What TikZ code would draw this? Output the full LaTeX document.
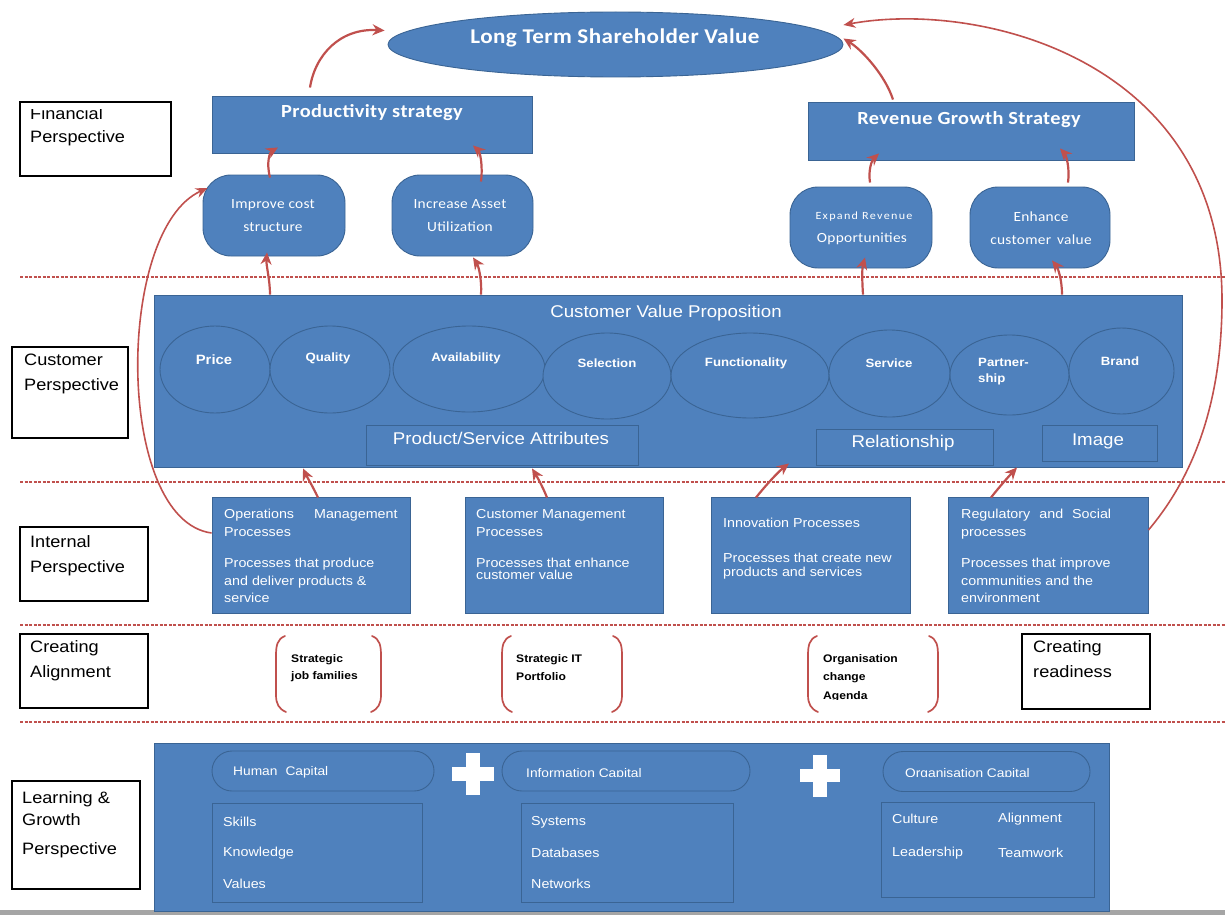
\documentclass[tikz,border=0pt]{standalone}
\usepackage{fontspec}
\setmainfont[FakeStretch=1.1]{Liberation Sans}
\newfontfamily\capfont[FakeStretch=1.1,LetterSpace=2]{Carlito}
\newfontfamily\widecapfont[FakeStretch=1.1,LetterSpace=12]{Carlito}
\usetikzlibrary{arrows.meta,shapes.geometric}
\definecolor{bsfill}{HTML}{4F81BD}
\definecolor{bsline}{HTML}{3A6494}
\definecolor{bsred}{HTML}{C0504D}
\definecolor{barg}{HTML}{A5A5A5}
\newcommand\fsz[2]{\fontsize{#1}{#2}\selectfont}
\begin{document}
\begin{tikzpicture}[x=1pt,y=-1pt,
  sz/.style 2 args={minimum width=#1pt, minimum height=#2pt},
  blk/.style={draw=bsline, line width=0.9pt, fill=bsfill, inner sep=0},
  oval/.style={blk, ellipse},
  rbox/.style={blk, rounded corners=28pt},
  pill/.style={blk, rounded corners=20pt},
  tag/.style={draw=black, line width=1.3pt, fill=white, inner sep=0},
  wtxt/.style={text=white, inner sep=0},
  ktxt/.style={text=black, inner sep=0, align=left, anchor=north west},
  link/.style={draw=bsred, line width=2.2pt, -{Stealth[length=12pt,width=11pt]}},
  arc/.style={draw=bsred, line width=1.6pt, -{Stealth[length=12pt,width=10pt]}},
  sep/.style={draw=bsred, line width=1.8pt, dash pattern=on 3pt off 1.5pt},
  brk/.style={draw=bsred, line width=1.7pt, line cap=round},
  lbl/.style={font=\fsz{16.5}{25}},
]
\useasboundingbox (0,0) rectangle (1225,915);

% layer separators
\foreach \yy in {277,482,625,722} \draw[sep] (20,\yy) -- (1225,\yy);

% ---------- financial perspective ----------
\node[tag, sz={151}{74}] (finbox) at (95.5,139) {};
\begin{scope}
  \clip (20,110) rectangle (171,176);
  \node[ktxt, font=\fsz{16.5}{23.5}] (fint) at (30,107) {Financial\\Perspective};
\end{scope}

\node[oval, sz={455}{65}] (ltsv) at (615.5,44.5) {};
\node[wtxt, font=\capfont\bfseries\fsz{21}{24}] (ltsvt) at (615,38) {Long Term Shareholder Value};

\node[blk, sz={320}{57}] (prod) at (372,124.5) {};
\node[wtxt, font=\capfont\bfseries\fsz{18.5}{22}] (prodt) at (372,113) {Productivity strategy};
\node[blk, sz={326}{58}] (rev) at (971,131) {};
\node[wtxt, font=\capfont\bfseries\fsz{18.5}{22}] (revt) at (969,120) {Revenue Growth Strategy};

\node[rbox, sz={142}{81}] (cost) at (274,215.5) {};
\node[wtxt, font=\capfont\fsz{14}{23}, align=center] (costt) at (273,216) {Improve cost\\structure};
\node[rbox, sz={141}{81}] (asset) at (462.5,215.5) {};
\node[wtxt, font=\capfont\fsz{14}{23}, align=center] (assett) at (460,216) {Increase Asset\\Utilization};
\node[rbox, sz={142}{81}] (expand) at (861,227.5) {};
\node[wtxt, font=\widecapfont\fsz{11}{14}] (expt1) at (864,217) {Expand Revenue};
\node[wtxt, font=\capfont\fsz{14}{17}] (expt2) at (862,239) {Opportunities};
\node[rbox, sz={140}{81}] (enhance) at (1040,227.5) {};
\node[wtxt, font=\capfont\fsz{14}{23}, align=center] (enht) at (1041,228) {Enhance\\customer\hspace{6pt}value};

% ---------- customer perspective ----------
\node[tag, sz={116}{91}] (cusbox) at (70,392.5) {};
\node[ktxt, lbl] (cust) at (24,354) {Customer\\Perspective};

\node[blk, sz={1028}{172}] (cvp) at (668,381) {};
\node[wtxt, font=\fsz{17}{20}] (cvpt) at (666,313) {Customer Value Proposition};

\node[oval, sz={110}{87}] (price) at (215,369.5) {};
\node[oval, sz={120}{87}] (quality) at (330,369.5) {};
\node[oval, sz={152}{86}] (avail) at (469,369) {};
\node[oval, sz={128}{86}] (select) at (607,376) {};
\node[oval, sz={158}{85}] (func) at (750,375.5) {};
\node[oval, sz={121}{87}] (service) at (889.5,373.5) {};
\node[oval, sz={119}{80}] (partner) at (1009.5,375) {};
\node[oval, sz={105}{86}] (brand) at (1121.5,371) {};

\node[wtxt, font=\bfseries\fsz{13.5}{16}] (pricet) at (214,360) {Price};
\node[wtxt, font=\bfseries\fsz{12}{16}] (qualityt) at (328,358) {Quality};
\node[wtxt, font=\bfseries\fsz{12}{16}] (availt) at (466,358) {Availability};
\node[wtxt, font=\bfseries\fsz{12}{16}] (selectt) at (607,363) {Selection};
\node[wtxt, font=\bfseries\fsz{12}{16}] (funct) at (746,363) {Functionality};
\node[wtxt, font=\bfseries\fsz{12}{16}] (servicet) at (889,363) {Service};
\node[wtxt, font=\bfseries\fsz{12}{16}, align=left, anchor=north west] (partnert) at (978,358.5) {Partner-\\ship};
\node[wtxt, font=\bfseries\fsz{12}{16}] (brandt) at (1120,361) {Brand};

\node[blk, sz={272}{40}] (psattr) at (502,445) {};
\node[wtxt, font=\fsz{17}{20}] (psattrt) at (501,438) {Product/Service Attributes};
\node[blk, sz={177}{36}] (relat) at (904.5,447) {};
\node[wtxt, font=\fsz{17}{20}] (relatt) at (903,443) {Relationship};
\node[blk, sz={115}{36}] (image) at (1099.5,443) {};
\node[wtxt, font=\fsz{17}{20}] (imaget) at (1098,441) {Image};

% ---------- internal perspective ----------
\node[tag, sz={128}{74}] (intbox) at (84,564) {};
\node[ktxt, lbl] (intt) at (30,535) {Internal\\Perspective};

\node[blk, sz={198}{116}] (ops) at (311,555) {};
\node[blk, sz={198}{116}] (custm) at (564,555) {};
\node[blk, sz={199}{116}] (innov) at (810.5,555) {};
\node[blk, sz={200}{116}] (reg) at (1048,555) {};

\node[wtxt, align=left, anchor=north west, font=\fsz{13}{18}] (opst) at (224,509)
  {Operations\hspace{20pt}Management\\Processes\\[13pt]Processes that produce\\and deliver products \&\\[-1pt]service};
\node[wtxt, align=left, anchor=north west, font=\fsz{13}{18}] (custmt) at (476,509)
  {Customer Management\\Processes\\[13pt]Processes that enhance\\[-6pt]customer value};
\node[wtxt, align=left, anchor=north west, font=\fsz{13}{18}] (innovt) at (723,518)
  {Innovation Processes\\[17pt]Processes that create new\\[-4pt]products and services};
\node[wtxt, align=left, anchor=north west, font=\fsz{13}{18}] (regt) at (961,509)
  {Regulatory\hspace{9pt}and\hspace{9pt}Social\\processes\\[13pt]Processes that improve\\communities and the\\[-1pt]environment};

% ---------- creating alignment ----------
\node[tag, sz={128}{74}] (alnbox) at (84,671) {};
\node[ktxt, lbl] (alnt) at (30,640) {Creating\\Alignment};
\node[tag, sz={128}{75}] (rdybox) at (1086,671.5) {};
\node[ktxt, lbl] (rdyt) at (1033,640) {Creating\\readiness};

\foreach \l/\r in {276/381, 502/622, 808/938} {
  \draw[brk] (\l+9,636) .. controls (\l+1,639) and (\l,646) .. (\l,656) -- (\l,695)
             .. controls (\l,704) and (\l+3,709) .. (\l+10,712);
  \draw[brk] (\r-9,636) .. controls (\r-1,639) and (\r,646) .. (\r,656) -- (\r,695)
             .. controls (\r,704) and (\r-3,709) .. (\r-10,712);
}
\node[ktxt, font=\bfseries\fsz{11}{17}] (jobt) at (291,654) {Strategic\\job families};
\node[ktxt, font=\bfseries\fsz{11}{18}] (itt) at (516,654) {Strategic IT\\Portfolio};
\begin{scope}
  \clip (800,640) rectangle (940,699);
  \node[ktxt, font=\bfseries\fsz{11}{18.5}] (orgt) at (823,654) {Organisation\\change\\Agenda};
\end{scope}

% ---------- learning & growth ----------
\node[tag, sz={128}{108}] (lgbox) at (76,835) {};
\node[ktxt, font=\fsz{16.5}{22}] (lgt) at (22,791) {Learning \&\\Growth\\[7pt]Perspective};

\fill[barg] (0,910) rectangle (1225,915);
\node[blk, sz={955}{168}] (lg) at (631.5,827) {};

\node[pill, sz={222}{40}] (human) at (323,771) {};
\node[pill, sz={248}{40}] (infocap) at (626,771) {};
\node[pill, sz={207}{40}] (orgcap) at (986.5,771.5) {};
\node[wtxt, anchor=west, font=\fsz{12.5}{15}] (humant) at (233,772) {Human\hspace{8pt}Capital};
\begin{scope}
  \clip (500,750) rectangle (1092,776);
  \node[wtxt, anchor=west, font=\fsz{12.5}{15}] (infocapt) at (526,774) {Information Capital};
  \node[wtxt, anchor=west, font=\fsz{12.5}{15}] (orgcapt) at (905,774) {Organisation Capital};
\end{scope}

% plus signs
\fill[white] (452,767) rectangle (494,781);
\fill[white] (466,753) rectangle (480,795);
\fill[white] (800,769) rectangle (840,782);
\fill[white] (813,755) rectangle (827,797);

\node[blk, sz={210}{99}] (skills) at (317,852.5) {};
\node[blk, sz={212}{99}] (systems) at (627,852.5) {};
\node[blk, sz={213}{95}] (culture) at (987.5,849.5) {};
\node[wtxt, anchor=west, font=\fsz{13}{15}] (skt) at (223,822) {Skills};
\node[wtxt, anchor=west, font=\fsz{13}{15}] (knt) at (223,853) {Knowledge};
\node[wtxt, anchor=west, font=\fsz{13}{15}] (vat) at (223,884) {Values};
\node[wtxt, anchor=west, font=\fsz{13}{15}] (syt) at (531,822) {Systems};
\node[wtxt, anchor=west, font=\fsz{13}{15}] (dbt) at (531,853) {Databases};
\node[wtxt, anchor=west, font=\fsz{13}{15}] (nwt) at (531,884) {Networks};
\node[wtxt, anchor=west, font=\fsz{13}{15}] (cut) at (892,819) {Culture};
\node[wtxt, anchor=west, font=\fsz{13}{15}] (alt) at (998,819) {Alignment};
\node[wtxt, anchor=west, font=\fsz{13}{15}] (lst) at (892,853) {Leadership};
\node[wtxt, anchor=west, font=\fsz{13}{15}] (twt) at (998,853) {Teamwork};

% ---------- cause and effect links ----------
\draw[link] ([xshift=-62pt,yshift=8pt]prod.north) .. controls (315,55) and (340,28) .. ([xshift=-3pt,yshift=14pt]ltsv.west);
\draw[link] ([xshift=-78pt,yshift=2pt]rev.north) .. controls (885,75) and (862,50) .. ([yshift=6pt]ltsv.east);
\draw[arc] ([yshift=25pt]reg.east) .. controls (1195,475) and (1222,400) .. (1222,300)
           .. controls (1222,60) and (980,0) .. ([yshift=19.5pt]ltsv.east);
\draw[arc] ([yshift=22pt]ops.west) .. controls (115,520) and (115,230) .. ([xshift=5pt,yshift=27.5pt]cost.west);

\draw[link] ([xshift=-4pt,yshift=-3pt]cost.north) .. controls (266,162) and (270,152) .. ([xshift=-94pt,yshift=6pt]prod.south);
\draw[link] ([xshift=18.5pt,yshift=-7pt]asset.north) .. controls (483,165) and (480,152) .. ([xshift=101pt,yshift=8pt]prod.south);
\draw[link] ([xshift=9pt,yshift=4pt]expand.north) .. controls (868,170) and (872,160) .. ([xshift=-92pt,yshift=7pt]rev.south);
\draw[link] ([xshift=28pt,yshift=4pt]enhance.north) .. controls (1070,168) and (1066,155) .. ([xshift=89pt,yshift=12pt]rev.south);

\draw[link] ([xshift=-398pt]cvp.north) .. controls (270,280) and (266,265) .. ([xshift=-7pt,yshift=4pt]cost.south);
\draw[link] ([xshift=-187pt]cvp.north) .. controls (482,278) and (478,265) .. ([xshift=10.5pt,yshift=-1pt]asset.south);
\draw[link] ([xshift=195pt]cvp.north) .. controls (862,280) and (862,268) .. ([xshift=4pt,yshift=11pt]expand.south);
\draw[link] ([xshift=394pt]cvp.north) .. controls (1062,280) and (1058,268) .. ([xshift=12pt,yshift=8pt]enhance.south);

\draw[link] ([xshift=7pt,yshift=-1pt]ops.north) .. controls (312,485) and (306,475) .. ([xshift=-365pt,yshift=-1pt]cvp.south);
\draw[link] ([xshift=-17pt,yshift=-1pt]custm.north) .. controls (542,485) and (536,475) .. ([xshift=-136pt,yshift=-1pt]cvp.south);
\draw[link] ([xshift=-54.5pt,yshift=-1pt]innov.north) .. controls (766,485) and (778,472) .. ([xshift=121pt,yshift=4pt]cvp.south);
\draw[link] ([xshift=-57pt,yshift=-1pt]reg.north) .. controls (1000,486) and (1010,475) .. ([xshift=349pt]cvp.south);
\end{tikzpicture}
\end{document}
